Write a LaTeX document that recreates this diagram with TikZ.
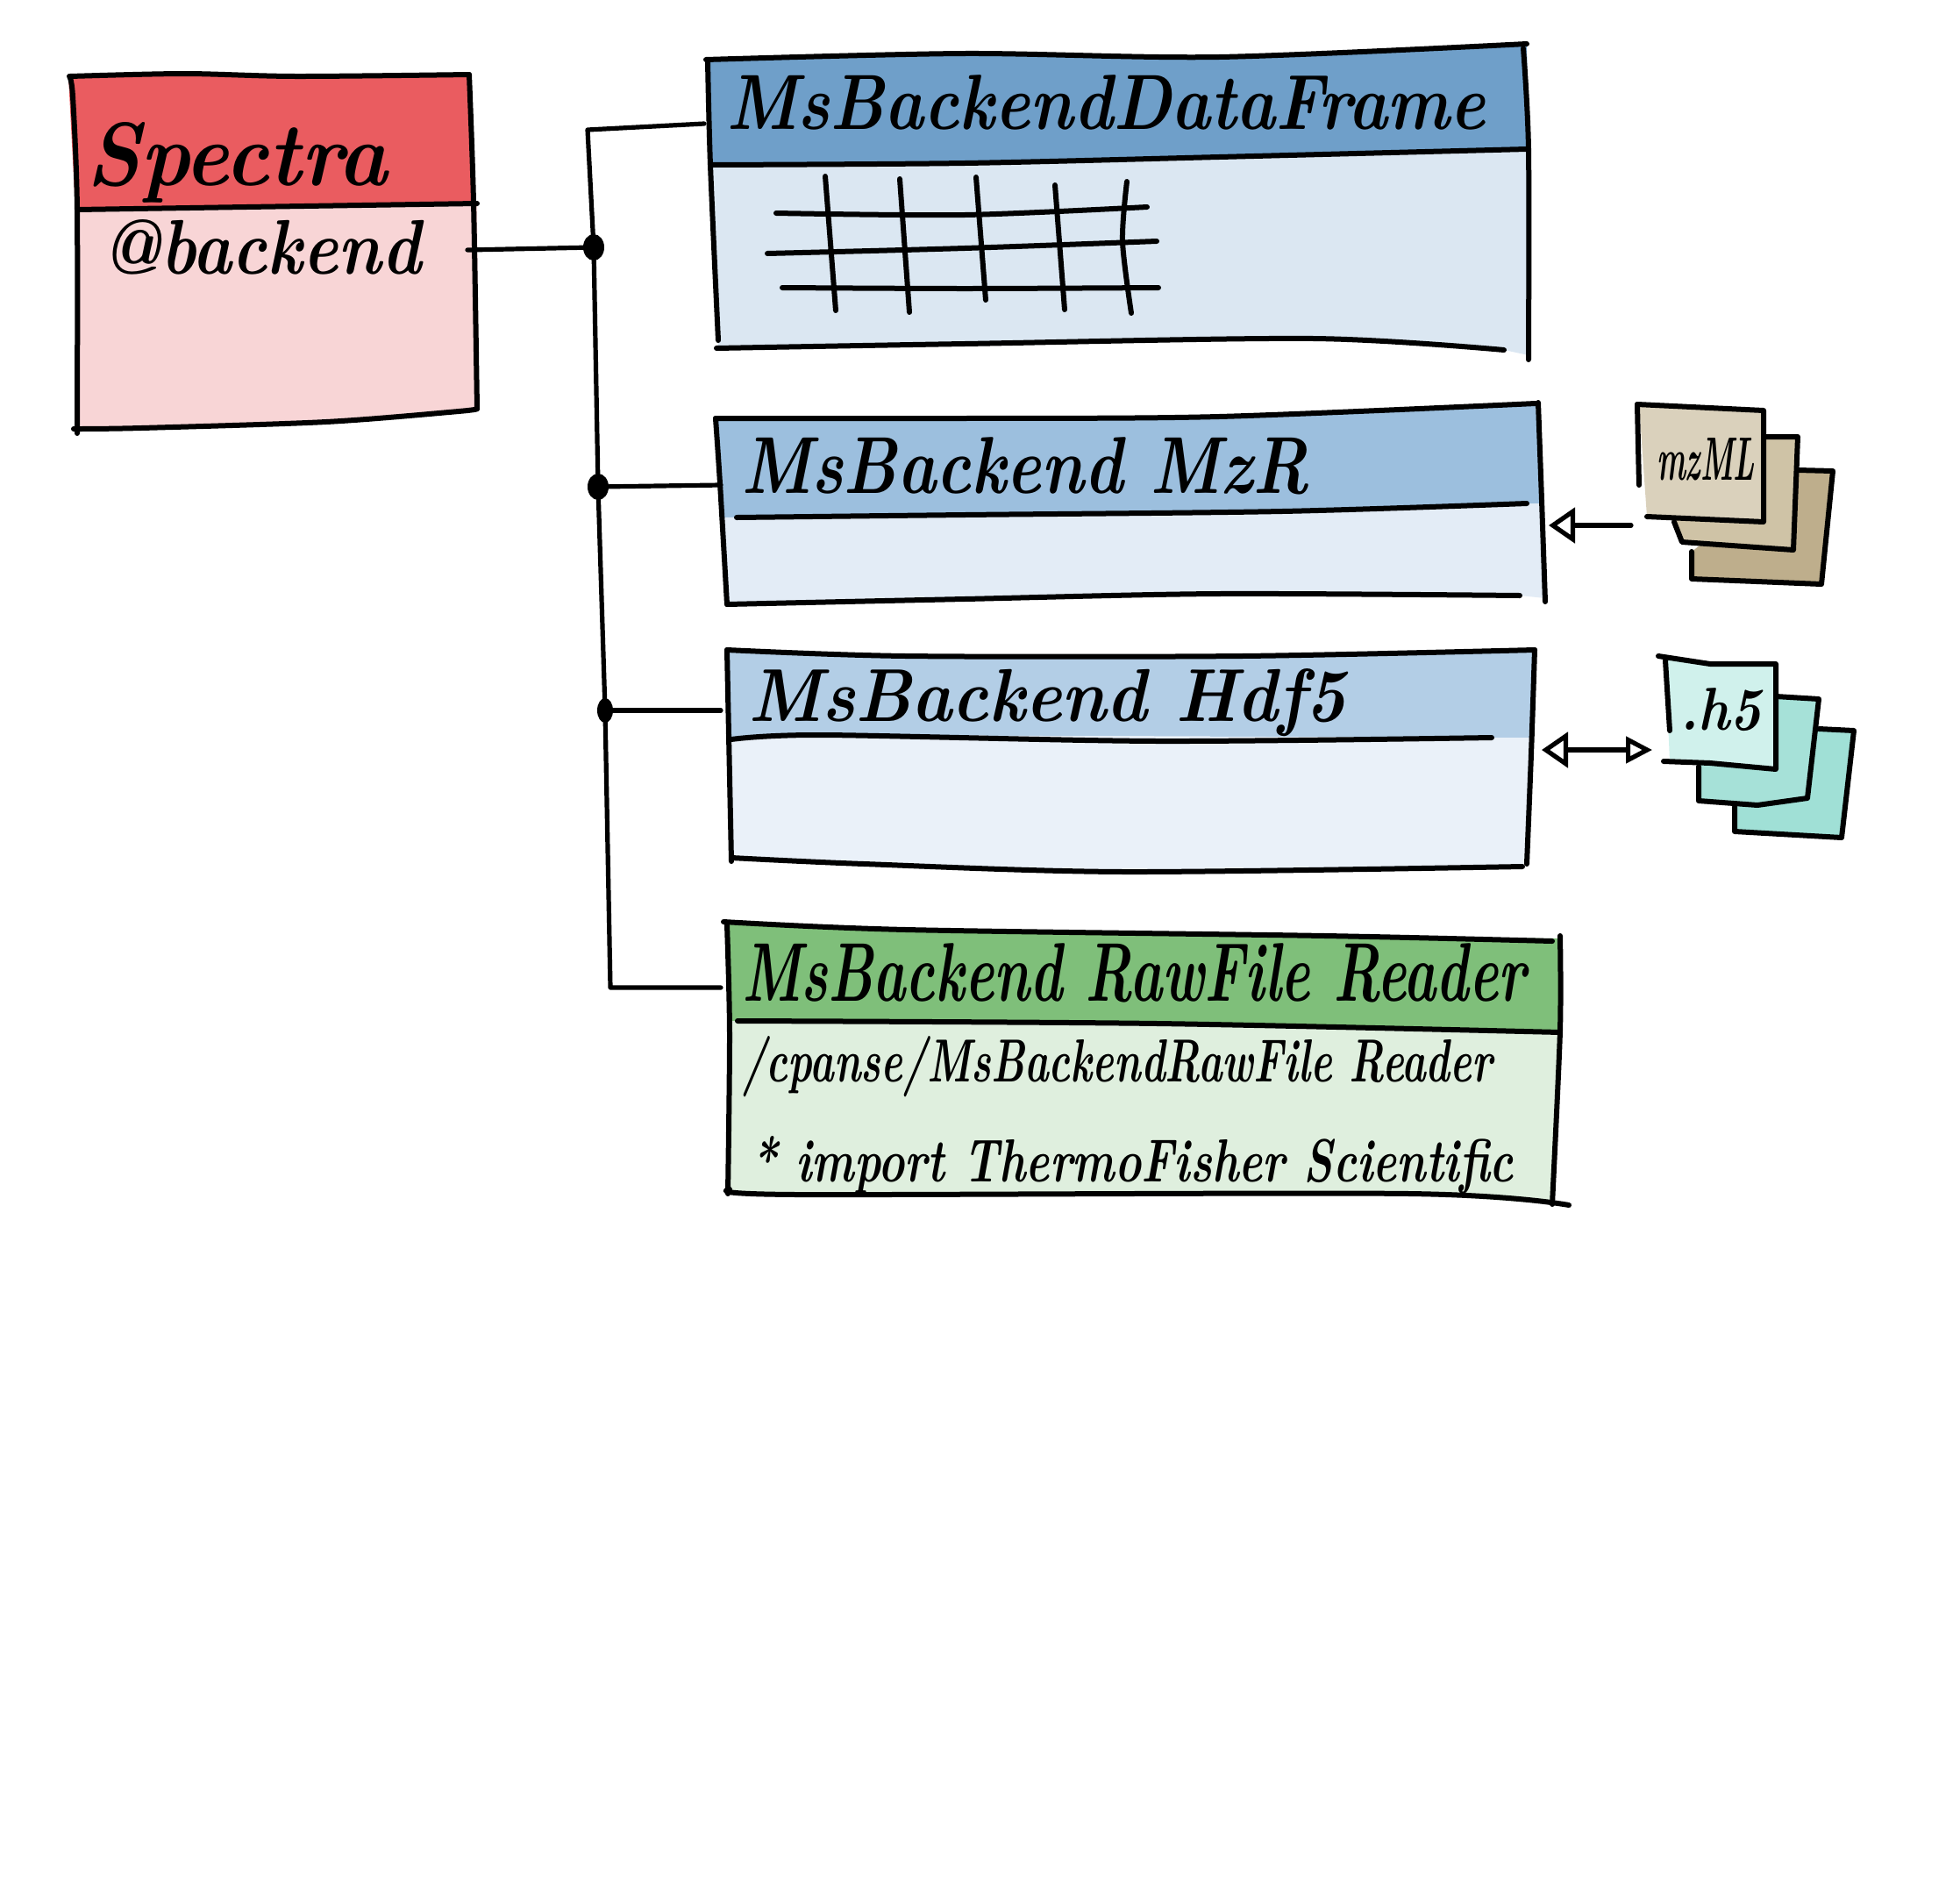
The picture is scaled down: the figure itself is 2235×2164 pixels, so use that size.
\documentclass[tikz,border=0pt]{standalone}
\usepackage{graphicx}
\usetikzlibrary{arrows.meta,shapes.geometric}
\definecolor{spectrahead}{HTML}{EA5C60}
\definecolor{spectrabody}{HTML}{F8D5D6}
\definecolor{frameahead}{HTML}{6F9FC9}
\definecolor{frameabody}{HTML}{DBE7F2}
\definecolor{framebhead}{HTML}{9CBFDE}
\definecolor{framebbody}{HTML}{E3ECF6}
\definecolor{framechead}{HTML}{B3CEE6}
\definecolor{framecbody}{HTML}{EAF1F9}
\definecolor{rawhead}{HTML}{7FBF7A}
\definecolor{rawbody}{HTML}{DFEFDE}
\definecolor{mzfront}{HTML}{DAD1BC}
\definecolor{mzmiddle}{HTML}{CFC3A6}
\definecolor{mzback}{HTML}{BEAE8C}
\definecolor{hfront}{HTML}{D0F1EC}
\definecolor{hmiddle}{HTML}{A6E1D8}
\definecolor{hback}{HTML}{A0E0D6}
\newcommand{\handtext}[3]{\resizebox{#1pt}{#2pt}{\bfseries\itshape #3}}
\begin{document}
\begin{tikzpicture}[x=0.5pt,y=-0.5pt,line join=round,line cap=round,
	pen/.style={draw=black,line width=3pt},
	wire/.style={draw=black,line width=2.6pt},
	hand/.style={anchor=base west,inner sep=0pt,outer sep=0pt},
	junction/.style={ellipse,fill=black,inner sep=0pt}]
	\useasboundingbox (0,0) rectangle (2235,2164);
	\tikzset{wobble/.style={pen,smooth,tension=0.5}}
	% Spectra
	\fill[spectrahead] (78,87) -- (337,87) -- (537,85) -- (542,232) -- (281,236) -- (86,239) -- cycle;
	\fill[spectrabody] (86,239) -- (281,236) -- (544,232) -- (546,466) -- (372,481) -- (161,488) -- (86,490) -- cycle;
	\draw[wobble] plot coordinates {(80,87) (210,84) (337,87) (535,85)};
	\draw[wobble] plot coordinates {(535,85) (540,230) (544,466)};
	\draw[wobble] plot coordinates {(544,466) (523,469) (372,481) (161,488) (84,489)};
	\draw[wobble] plot coordinates {(79,87) (83,110) (88,239) (88,494)};
	\draw[wobble] plot coordinates {(88,239) (281,236) (544,232)};
	\node[hand] (spectra) at (98,211) {\handtext{172}{36}{Spectra}};
	\node[hand] (backend) at (116,312) {\handtext{182}{31}{@backend}};
	% MsBackendDataFrame
	\fill[frameahead] (805,68) -- (1100,61) -- (1390,65) -- (1741,50) -- (1743,170) -- (1390,179) -- (1100,186) -- (810,188) -- cycle;
	\fill[frameabody] (810,188) -- (1100,186) -- (1390,179) -- (1743,170) -- (1743,405) -- (1715,399) -- (1498,386) -- (1100,392) -- (819,397) -- cycle;
	\draw[wobble] plot coordinates {(805,68) (1100,61) (1390,65) (1741,50)};
	\draw[wobble] plot coordinates {(1737,55) (1743,170) (1743,410)};
	\draw[wobble] plot coordinates {(1715,399) (1498,386) (1100,392) (817,397)};
	\draw[wobble] plot coordinates {(807,69) (810,188) (819,388)};
	\draw[wobble] plot coordinates {(810,188) (1100,186) (1390,179) (1741,170)};
	\node[hand] (framea) at (828,147) {\handtext{433}{31}{MsBackendDataFrame}};
	% table
	\draw[wobble] plot coordinates {(885,243) (1100,245) (1308,236)};
	\draw[wobble] plot coordinates {(875,289) (1100,283) (1319,275)};
	\draw[wobble] plot coordinates {(892,328) (1100,329) (1321,328)};
	\draw[wobble] plot coordinates {(941,201) (953,354)};
	\draw[wobble] plot coordinates {(1026,204) (1037,356)};
	\draw[wobble] plot coordinates {(1113,202) (1124,342)};
	\draw[wobble] plot coordinates {(1203,211) (1214,353)};
	\draw[wobble] plot coordinates {(1285,207) (1280,275) (1290,357)};
	% MsBackendMzR
	\fill[framebhead] (816,477) -- (1100,477) -- (1390,475) -- (1751,460) -- (1758,574) -- (1462,583) -- (1100,587) -- (825,590) -- cycle;
	\fill[framebbody] (825,590) -- (1100,587) -- (1462,583) -- (1758,574) -- (1762,682) -- (1733,679) -- (1390,677) -- (1100,683) -- (829,689) -- cycle;
	\draw[wobble] plot coordinates {(816,477) (1100,477) (1390,475) (1751,460)};
	\draw[wobble] plot coordinates {(1754,459) (1758,570) (1762,686)};
	\draw[wobble] plot coordinates {(1733,679) (1390,677) (1100,683) (829,689)};
	\draw[wobble] plot coordinates {(816,477) (821,551) (829,689)};
	\draw[wobble] plot coordinates {(840,590) (1100,587) (1462,583) (1741,574)};
	\node[hand] (frameb) at (845,562) {\handtext{324}{32}{MsBackend MzR}};
	% MsBackendHdf5
	\fill[framechead] (829,741) -- (1033,748) -- (1416,748) -- (1750,741) -- (1748,841) -- (1701,841) -- (937,838) -- (834,843) -- cycle;
	\fill[framecbody] (834,843) -- (937,838) -- (1701,841) -- (1748,841) -- (1741,985) -- (1282,994) -- (985,985) -- (834,978) -- cycle;
	\draw[wobble] plot coordinates {(829,741) (1033,748) (1416,748) (1750,741)};
	\draw[wobble] plot coordinates {(1750,741) (1746,860) (1741,985)};
	\draw[wobble] plot coordinates {(1736,988) (1282,994) (985,985) (834,978)};
	\draw[wobble] plot coordinates {(829,741) (834,982)};
	\draw[wobble] plot coordinates {(834,843) (937,838) (1320,845) (1701,841)};
	\node[hand] (framec) at (853,822) {\handtext{341}{30}{MsBackend Hdf5}};
	% MsBackendRawFileReader
	\fill[rawhead] (829,1054) -- (1033,1060) -- (1511,1067) -- (1779,1070) -- (1779,1177) -- (1320,1167) -- (832,1164) -- cycle;
	\fill[rawbody] (832,1164) -- (1320,1167) -- (1779,1177) -- (1770,1373) -- (1607,1361) -- (908,1362) -- (832,1358) -- cycle;
	\draw[wobble] plot coordinates {(825,1051) (1033,1060) (1511,1067) (1770,1073)};
	\draw[wobble] plot coordinates {(1779,1067) (1779,1175) (1770,1373)};
	\draw[wobble] plot coordinates {(1789,1374) (1607,1361) (908,1362) (832,1356)};
	\draw[wobble] plot coordinates {(829,1054) (832,1178) (830,1361)};
	\draw[wobble] plot coordinates {(841,1164) (1320,1167) (1779,1177)};
	\node[hand] (rawtitle) at (846,1141) {\handtext{447}{33}{MsBackend RawFile Reader}};
	\node[hand] (rawpath) at (846,1233) {\handtext{428}{26}{/cpanse/MsBackendRawFile Reader}};
	\node[hand] (rawnote) at (856,1347) {\handtext{435}{26}{* import ThermoFisher Scientific}};
	% mzML files
	\filldraw[pen,fill=mzback] (2050,536) -- (2090,537) -- (2077,666) -- (1929,660) -- (1929,629);
	\filldraw[pen,fill=mzmiddle] (2011,498) -- (2050,498) -- (2045,627) -- (1918,618) -- (1909,595);
	\fill[mzfront] (1869,461) -- (2011,468) -- (2011,595) -- (1878,589) -- cycle;
	\draw[pen] (1867,461) -- (2011,468) -- (2011,595) -- (1878,589);
	\draw[pen] (1867,461) -- (1869,553);
	\node[hand] (mzml) at (1889,547) {\handtext{56}{24}{mzML}};
	% h5 files
	\filldraw[pen,fill=hback] (2074,831) -- (2114,833) -- (2100,955) -- (1978,948) -- (1978,920);
	\filldraw[pen,fill=hmiddle] (2025,794) -- (2074,797) -- (2061,910) -- (2004,918) -- (1937,913) -- (1937,874);
	\fill[hfront] (1899,753) -- (2025,757) -- (2025,877) -- (1904,868) -- cycle;
	\draw[pen] (1891,748) -- (1950,757) -- (2025,757) -- (2025,877) -- (1950,870) -- (1897,868);
	\draw[pen] (1899,753) -- (1904,833);
	\node[hand] (hfive) at (1915,832) {\handtext{47}{24}{.h5}};
	% connectors
	\coordinate (bustop) at (670,148);
	\coordinate (busbottom) at (696,1126);
	\coordinate (port) at (533,285);
	\coordinate (frameain) at (803,141);
	\coordinate (framebin) at (822,553);
	\coordinate (framecin) at (822,810);
	\coordinate (rawin) at (822,1126);
	\coordinate (framebout) at (1766,599);
	\coordinate (mzout) at (1860,599);
	\coordinate (framecout) at (1758,855);
	\coordinate (hout) at (1884,855);
	\node[junction,minimum width=12pt,minimum height=15pt] (joina) at (677,282) {};
	\node[junction,minimum width=12pt,minimum height=15pt] (joinb) at (682,555) {};
	\node[junction,minimum width=9pt,minimum height=14pt] (joinc) at (690,810) {};
	\draw[wire] (frameain) -- (bustop) -- (joina.center) -- (joinb.center) -- (joinc.center) -- (busbottom) -- (rawin);
	\draw[wire] (port) -- (joina);
	\draw[wire] (joinb) -- (framebin);
	\draw[wire] (joinc) -- (framecin);
	\draw[wire,{Triangle[open,length=15pt,width=20pt]}-] (framebout) -- (mzout);
	\draw[wire,{Triangle[open,length=15pt,width=20pt]}-{Triangle[open,length=15pt,width=15pt]}] (framecout) -- (hout);
\end{tikzpicture}
\end{document}
